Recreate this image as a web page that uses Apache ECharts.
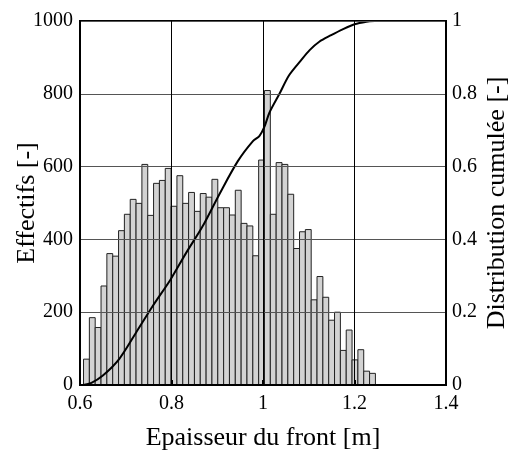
<!DOCTYPE html>
<html>
<head>
<meta charset="utf-8">
<script src="https://cdn.jsdelivr.net/npm/echarts@6/dist/echarts.min.js"></script>
<style>
html,body{margin:0;padding:0;background:#fff;}
#chart{width:513px;height:451px;}
</style>
</head>
<body>
<div id="chart"></div>
<script>
// Histogram: first bin left edge and bin width (x units, metres)
const binStart = 0.6077;
const binWidth = 0.01276;
// Counts per bin (Effectifs)
const counts = [71,185,158,272,361,354,424,469,510,499,
                606,466,554,562,595,491,575,499,529,477,
                526,516,565,487,487,467,535,444,437,355,
                618,809,469,611,606,524,375,421,427,234,
                298,241,178,200,95,151,69,97,38,32];
// Cumulative distribution curve points
const cumX = [0.607,0.625,0.650,0.686,0.723,0.759,0.798,0.832,0.868,0.905,
              0.945,0.978,0.992,1.003,1.014,1.036,1.057,1.083,1.102,1.123,
              1.149,1.174,1.200,1.226,1.244];
const cumY = [0.000,0.006,0.026,0.072,0.145,0.217,0.290,0.363,0.436,0.525,
              0.615,0.670,0.684,0.709,0.748,0.800,0.851,0.892,0.920,0.943,
              0.961,0.977,0.991,0.998,1.000];
const xTicks = [0.6,0.8,1.0,1.2,1.4];

const barData = counts.map((c,i)=>[binStart+i*binWidth, binStart+(i+1)*binWidth, c]);
const lineData = cumX.map((x,i)=>[x,cumY[i]]);

const font = '"Liberation Serif","Times New Roman",serif';
const chart = echarts.init(document.getElementById('chart'));
chart.setOption({
  animation:false,
  backgroundColor:'#fff',
  grid:{left:80,right:67,top:21,bottom:66,containLabel:false,outerBoundsMode:'none',
        show:true,borderColor:'#000',borderWidth:2,z:10},
  xAxis:{
    type:'value',min:0.6,max:1.4,interval:0.2,
    name:'Epaisseur du front [m]',nameLocation:'middle',nameGap:40,nameMoveOverlap:false,
    nameTextStyle:{fontFamily:font,fontSize:26,color:'#000'},
    axisLine:{show:true,onZero:false,lineStyle:{color:'#000',width:2}},
    axisTick:{show:true,inside:true,length:5,lineStyle:{color:'#000',width:2}},
    axisLabel:{fontFamily:font,fontSize:20,color:'#000',margin:9,
      formatter:v=>{const s=xTicks.find(t=>Math.abs(t-v)<1e-6);return s===undefined?'':String(+s.toFixed(1));}},
    splitLine:{show:true,lineStyle:{color:'#000',width:1}},
    z:10
  },
  yAxis:[{
    type:'value',min:0,max:1000,interval:200,
    name:'Effectifs [-]',nameLocation:'middle',nameGap:40,nameMoveOverlap:false,
    nameTextStyle:{fontFamily:font,fontSize:26,color:'#000'},
    axisLine:{show:true,lineStyle:{color:'#000',width:2}},
    axisTick:{show:false},
    axisLabel:{fontFamily:font,fontSize:20,color:'#000',margin:7,formatter:v=>String(v)},
    splitLine:{show:true,lineStyle:{color:'#555',width:1}},
    z:10
  },{
    type:'value',min:0,max:1,interval:0.2,position:'right',
    name:'Distribution cumulée [-]',nameLocation:'middle',nameGap:38,nameMoveOverlap:false,
    nameTextStyle:{fontFamily:font,fontSize:26,color:'#000'},
    axisLine:{show:true,lineStyle:{color:'#000',width:2}},
    axisTick:{show:false},
    axisLabel:{fontFamily:font,fontSize:20,color:'#000',margin:6,formatter:v=>String(+v.toFixed(1))},
    splitLine:{show:false},
    z:10
  }],
  series:[{
    type:'custom',
    xAxisIndex:0,yAxisIndex:0,
    data:barData,
    encode:{x:[0,1],y:2},
    renderItem:function(params,api){
      const p0=api.coord([api.value(0),api.value(2)]);
      const p1=api.coord([api.value(1),0]);
      return {type:'rect',shape:{x:p0[0],y:p0[1],width:p1[0]-p0[0],height:p1[1]-p0[1]},
        style:{fill:'#d3d3d3',stroke:'#222',lineWidth:1}};
    },
    z:2
  },{
    type:'line',xAxisIndex:0,yAxisIndex:1,
    data:lineData,smooth:0.3,showSymbol:false,symbol:'none',
    lineStyle:{color:'#000',width:2},
    z:5
  }]
});
</script>
</body>
</html>
